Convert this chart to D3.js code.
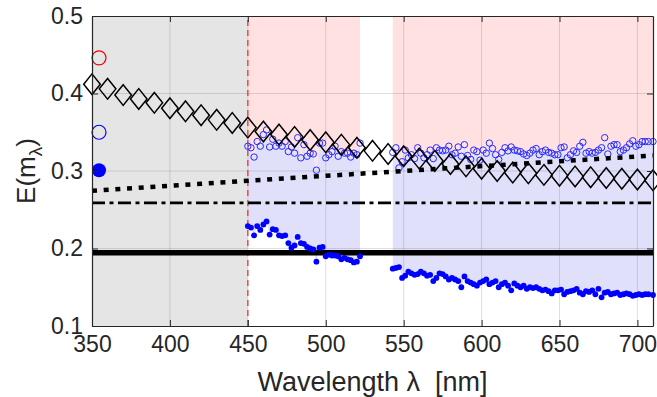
<!DOCTYPE html>
<html><head><meta charset="utf-8">
<script src="https://cdn.jsdelivr.net/npm/d3@7"></script>
<style>body{margin:0;background:#fff}text{font-family:"Liberation Sans",Arial,Helvetica,sans-serif}</style>
</head><body><svg id="c" width="657" height="397"></svg>
<script>
// ---- data ----
const wlA = [450,452,454,456,458,460,462,464,466,468,470,472,474,476,478,480,482,484,486,488,490,492,494,496,498,500,502,504,506,508,510,512,514,516,518,520,522];
const upperA = [0.332,0.330,0.318,0.338,0.332,0.347,0.353,0.331,0.341,0.332,0.336,0.332,0.338,0.325,0.331,0.323,0.343,0.317,0.334,0.319,0.323,0.322,0.301,0.336,0.336,0.317,0.321,0.325,0.332,0.319,0.325,0.323,0.323,0.318,0.323,0.321,0.336];
const lowerA = [0.229,0.227,0.217,0.229,0.224,0.231,0.235,0.218,0.225,0.224,0.217,0.216,0.217,0.207,0.201,0.204,0.215,0.207,0.206,0.202,0.200,0.199,0.183,0.201,0.202,0.190,0.192,0.191,0.191,0.190,0.186,0.188,0.186,0.185,0.182,0.183,0.190];
const wlB = [543,545,547,549,551,553,555,557,559,561,563,565,567,569,571,573,575,577,579,581,583,585,587,589,591,593,595,597,599,601,603,605,607,609,611,613,615,617,619,621,623,625,627,629,631,633,635,637,639,641,643,645,647,649,651,653,655,657,659,661,663,665,667,669,671,673,675,677,679,681,683,685,687,689,691,693,695,697,699,701,703,705,707,710];
const upperB = [0.324,0.330,0.304,0.312,0.327,0.317,0.321,0.316,0.330,0.323,0.317,0.321,0.327,0.316,0.330,0.327,0.326,0.327,0.332,0.321,0.323,0.331,0.319,0.334,0.320,0.315,0.327,0.325,0.314,0.327,0.323,0.336,0.329,0.321,0.315,0.324,0.330,0.326,0.331,0.327,0.326,0.325,0.322,0.320,0.323,0.327,0.329,0.321,0.325,0.327,0.324,0.323,0.321,0.321,0.330,0.331,0.317,0.321,0.326,0.324,0.332,0.337,0.323,0.325,0.323,0.324,0.327,0.330,0.343,0.322,0.332,0.334,0.334,0.325,0.327,0.330,0.335,0.339,0.332,0.334,0.338,0.338,0.338,0.338];
const lowerB = [0.174,0.175,0.176,0.162,0.165,0.170,0.168,0.166,0.167,0.170,0.168,0.165,0.166,0.158,0.162,0.168,0.167,0.164,0.160,0.162,0.160,0.158,0.150,0.164,0.158,0.156,0.154,0.152,0.156,0.158,0.160,0.154,0.156,0.158,0.150,0.154,0.156,0.152,0.146,0.155,0.152,0.150,0.152,0.148,0.150,0.149,0.150,0.148,0.146,0.147,0.145,0.142,0.146,0.146,0.147,0.141,0.144,0.145,0.146,0.148,0.143,0.141,0.145,0.144,0.146,0.141,0.148,0.137,0.143,0.144,0.141,0.142,0.143,0.140,0.141,0.142,0.141,0.139,0.140,0.141,0.140,0.141,0.141,0.140];
const wlDiamond = [350,360,370,380,390,400,410,420,430,440,450,460,470,480,490,500,510,520,530,540,550,560,570,580,590,600,610,620,630,640,650,660,670,680,690,700,710];
const eDiamond = [0.412,0.406,0.398,0.393,0.388,0.381,0.377,0.372,0.366,0.362,0.356,0.351,0.347,0.344,0.340,0.337,0.334,0.330,0.326,0.322,0.319,0.316,0.313,0.309,0.306,0.303,0.300,0.298,0.297,0.295,0.294,0.293,0.292,0.291,0.290,0.289,0.288];
const wlDotted = [350,450,550,650,710];
const eDotted = [0.2745,0.2875,0.300,0.3125,0.320];
const wlFlat = [350,710];
const eDashDot = [0.259,0.259];
const eSolid = [0.1945,0.1945];
const wlRef = [354.5,354.5,354.5];
const eRef = [0.446,0.350,0.301];
const refKind = ["openRed","openBlue","filledBlue"];
const grayBand = [350,450];
const cutoffWl = 450;
const xTicks = [350,400,450,500,550,600,650,700];
const yTicks = [0.1,0.2,0.3,0.4,0.5];
const xLabel = "Wavelength λ  [nm]";

// ---- layout ----
const svg = d3.select("#c");
const L = 92, R = 653, T = 16, B = 326;
const x = d3.scaleLinear().domain([350,710]).range([L,R]);
const y = d3.scaleLinear().domain([0.1,0.5]).range([B,T]);

svg.append("rect").attr("width",657).attr("height",397).attr("fill","#fff");

// gray band
svg.append("rect").attr("x",x(grayBand[0])).attr("y",y(0.5))
  .attr("width",x(grayBand[1])-x(grayBand[0])).attr("height",y(0.1)-y(0.5)).attr("fill","#e5e5e5");

// fills
function fills(wl, up, lo){
  const d = wl.map((w,i)=>({w, u:up[i], l:lo[i]}));
  svg.append("path").datum(d).attr("fill","#ffe1e1")
    .attr("d", d3.area().x(p=>x(p.w)).y0(p=>y(p.u)).y1(()=>y(0.5)));
  svg.append("path").datum(d).attr("fill","#e0e0fb")
    .attr("d", d3.area().x(p=>x(p.w)).y0(p=>y(p.l)).y1(p=>y(p.u)));
}
fills(wlA, upperA, lowerA);
fills(wlB, upperB, lowerB);

// grid
const grid = svg.append("g").attr("stroke","rgba(38,38,38,0.15)").attr("stroke-width",1);
xTicks.filter(t=>t>350).forEach(t=>grid.append("line").attr("x1",x(t)).attr("x2",x(t)).attr("y1",y(0.1)).attr("y2",y(0.5)));
yTicks.filter(t=>t>0.1&&t<0.5).forEach(t=>grid.append("line").attr("x1",L).attr("x2",R).attr("y1",y(t)).attr("y2",y(t)));

// red dashed cutoff
svg.append("line").attr("x1",x(cutoffWl)).attr("x2",x(cutoffWl)).attr("y1",y(0.1)).attr("y2",y(0.5))
  .attr("stroke","#ff3030").attr("stroke-width",1.3).attr("stroke-dasharray","6,4");

const line = d3.line().x(d=>x(d[0])).y(d=>y(d[1]));
// solid
svg.append("path").attr("d", line(wlFlat.map((w,i)=>[w,eSolid[i]])))
  .attr("fill","none").attr("stroke","#000").attr("stroke-width",5.5);
// dash-dot
svg.append("path").attr("d", line(wlFlat.map((w,i)=>[w,eDashDot[i]])))
  .attr("fill","none").attr("stroke","#000").attr("stroke-width",2.8).attr("stroke-dasharray","13,4.5,4,4.5");

// scatter
const sc = svg.append("g");
function scat(wl, up, lo){
  wl.forEach((w,i)=>{
    sc.append("circle").attr("cx",x(w)).attr("cy",y(up[i])).attr("r",3.2).attr("fill","none").attr("stroke","#2a2aff").attr("stroke-width",1);
  });
  wl.forEach((w,i)=>{
    sc.append("circle").attr("cx",x(w)).attr("cy",y(lo[i])).attr("r",2.9).attr("fill","#0000ff");
  });
}
scat(wlA, upperA, lowerA);
scat(wlB, upperB, lowerB);

// diamonds
const dg = svg.append("g");
wlDiamond.forEach((w,i)=>{
  const cx = x(w), cy = y(eDiamond[i]), hw = 8.3, hh = 10.3;
  dg.append("path").attr("d",`M${cx},${cy-hh}L${cx+hw},${cy}L${cx},${cy+hh}L${cx-hw},${cy}Z`)
    .attr("fill","none").attr("stroke","#000").attr("stroke-width",1.5);
});

// dotted
svg.append("path").attr("d", line(wlDotted.map((w,i)=>[w,eDotted[i]])))
  .attr("fill","none").attr("stroke","#000").attr("stroke-width",4.5).attr("stroke-dasharray","5,6.7");

// reference markers
wlRef.forEach((w,i)=>{
  const c = svg.append("circle").attr("cx",x(w)).attr("cy",y(eRef[i])).attr("r",7);
  if(refKind[i]==="openRed") c.attr("fill","none").attr("stroke","#ee0000").attr("stroke-width",1.2);
  else if(refKind[i]==="openBlue") c.attr("fill","none").attr("stroke","#0000ff").attr("stroke-width",1.2);
  else c.attr("fill","#0000ff");
});

// axes
const ac = "#262626";
const fmt = d3.format(".1f");
const ax = svg.append("g").attr("transform",`translate(0,${B})`)
  .call(d3.axisBottom(x).tickValues(xTicks).tickSize(-6).tickSizeOuter(0).tickPadding(10));
const axT = svg.append("g").attr("transform",`translate(0,${T})`)
  .call(d3.axisTop(x).tickValues(xTicks).tickSize(-6).tickSizeOuter(0).tickFormat(""));
const ayl = svg.append("g").attr("transform",`translate(${L},0)`)
  .call(d3.axisLeft(y).tickValues(yTicks).tickSize(-6).tickSizeOuter(0).tickPadding(9).tickFormat(fmt));
const ayr = svg.append("g").attr("transform",`translate(${R},0)`)
  .call(d3.axisRight(y).tickValues(yTicks).tickSize(-6).tickSizeOuter(0).tickFormat(""));
[ax,axT,ayl,ayr].forEach(g=>{
  g.selectAll("path.domain").attr("stroke",ac).attr("stroke-width",1.2);
  g.selectAll("line").attr("stroke",ac).attr("stroke-width",1);
  g.selectAll("text").attr("fill",ac).style("font-size","23px").attr("font-family",null);
});

// labels
svg.append("text").attr("x",(L+R)/2).attr("y",391).attr("text-anchor","middle")
  .style("font-size","27px").style("white-space","pre").attr("xml:space","preserve").attr("fill",ac).text(xLabel);
const yl = svg.append("text").attr("transform",`translate(35,${(T+B)/2}) rotate(-90)`).attr("text-anchor","middle")
  .style("font-size","26px").attr("fill",ac);
yl.append("tspan").text("E(m");
yl.append("tspan").attr("dy",7).style("font-size","19px").text("λ");
yl.append("tspan").attr("dy",-7).text(")");
</script></body></html>
